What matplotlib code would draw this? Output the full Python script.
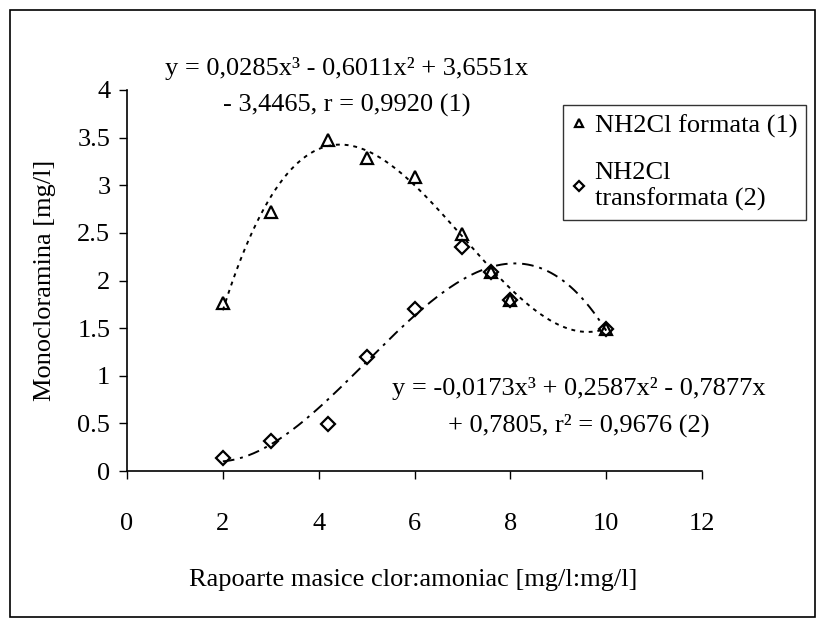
import numpy as np
import matplotlib
matplotlib.use("Agg")
import matplotlib.pyplot as plt
from matplotlib.patches import Rectangle

plt.rcParams['font.family'] = ['Liberation Serif', 'DejaVu Serif']

# Date masurate: rapoarte masice clor:amoniac si monocloramina [mg/l]
rapoarte = [2, 3, 4.2, 5, 6, 7, 7.6, 8, 10]
nh2cl_formata = [1.76, 2.72, 3.48, 3.29, 3.09, 2.49, 2.09, 1.80, 1.49]
nh2cl_transformata = [0.14, 0.32, 0.49, 1.20, 1.70, 2.35, 2.09, 1.80, 1.49]

# Coeficientii polinoamelor de gradul 3 (x^3, x^2, x, termen liber)
coef_formata = [0.0285, -0.6011, 3.6551, -3.4465]
coef_transformata = [-0.0173, 0.2587, -0.7877, 0.7805]

x_ticks = [0, 2, 4, 6, 8, 10, 12]
y_ticks = [0, 0.5, 1, 1.5, 2, 2.5, 3, 3.5, 4]
y_labels = ['0', '0.5', '1', '1.5', '2', '2.5', '3', '3.5', '4']

W, H = 825, 627
fig = plt.figure(figsize=(W / 100, H / 100), dpi=100)
ax = fig.add_axes([127 / W, 1 - 471 / H, (702 - 127) / W, (471 - 90) / H])

fs = 19

# curbele de tendinta
xs = np.linspace(2, 10, 300)
ax.plot(xs, np.polyval(coef_formata, xs), color='black', lw=1.4,
        linestyle=(0, (2, 2.5)))
ax.plot(xs, np.polyval(coef_transformata, xs), color='black', lw=1.4,
        linestyle=(0, (6, 3, 1.5, 3)))

ax.plot(rapoarte, nh2cl_formata, linestyle='none', marker='^', ms=8.5,
        mfc='none', mec='black', mew=1.6, label='NH2Cl formata (1)')
ax.plot(rapoarte, nh2cl_transformata, linestyle='none', marker='D', ms=7,
        mfc='none', mec='black', mew=1.6, label='NH2Cl\ntransformata (2)')

ax.set_xlim(0, 12)
ax.set_ylim(0, 4)
ax.set_xticks(x_ticks)
ax.set_yticks(y_ticks)
ax.set_yticklabels(y_labels)
ax.tick_params(direction='out', length=6, width=1, labelsize=fs, pad=6)
ax.tick_params(axis='x', pad=24)
for s in ['top', 'right']:
    ax.spines[s].set_visible(False)
for s in ['left', 'bottom']:
    ax.spines[s].set_linewidth(1.2)

fig.text(413 / W, 1 - 580 / H, 'Rapoarte masice clor:amoniac [mg/l:mg/l]',
         ha='center', va='center', fontsize=fs)
fig.text(45 / W, 1 - 280 / H, 'Monocloramina [mg/l]', rotation=90,
         ha='center', va='center', fontsize=fs)

fig.text(347 / W, 1 - 87 / H,
         'y = 0,0285x³ - 0,6011x² + 3,6551x\n- 3,4465, r = 0,9920 (1)',
         ha='center', va='center', multialignment='center', fontsize=fs,
         linespacing=1.75)
fig.text(579 / W, 1 - 407 / H,
         'y = -0,0173x³ + 0,2587x² - 0,7877x\n+ 0,7805, r² = 0,9676 (2)',
         ha='center', va='center', multialignment='center', fontsize=fs,
         linespacing=1.75)

leg = ax.legend(loc='upper left', bbox_to_anchor=(563 / W, 1 - 105 / H),
                bbox_transform=fig.transFigure, fontsize=fs, frameon=True,
                fancybox=False, edgecolor='black', handlelength=0.5,
                handletextpad=0.35, labelspacing=0.9, borderpad=0.35,
                borderaxespad=0, markerscale=0.7)
leg.get_frame().set_linewidth(1.0)

# chenarul exterior al graficului
fig.patches.append(Rectangle((10 / W, 10 / H), (815 - 10) / W, (617 - 10) / H,
                             transform=fig.transFigure, fill=False,
                             edgecolor='black', lw=1.2))

fig.savefig('out.png', dpi=100)
